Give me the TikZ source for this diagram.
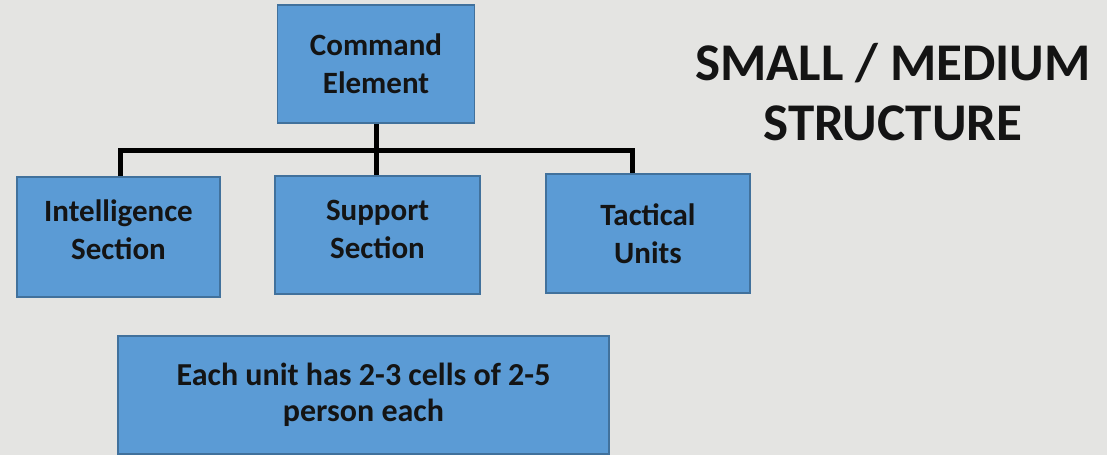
\documentclass[tikz,border=0pt]{standalone}
\usepackage{fontspec}
\setmainfont{Carlito}
\definecolor{bg}{HTML}{E4E4E2}
\definecolor{boxfill}{HTML}{5B9BD5}
\definecolor{boxline}{HTML}{41719C}
\definecolor{ink}{HTML}{141414}
\tikzset{
  orgbox/.style={draw=boxline, line width=1.5pt, fill=boxfill, align=center,
    font=\fontsize{31}{38}\selectfont\bfseries, text=ink, inner sep=0pt},
  link/.style={line width=5pt, black}
}
\begin{document}
\begin{tikzpicture}[x=1pt,y=-1pt]
\fill[bg] (0,0) rectangle (1107,455);
\useasboundingbox (0,0) rectangle (1107,455);
\node[orgbox, minimum width=197pt, minimum height=118pt] (cmd) at (376,64) {Command\\Element};
\node[orgbox, minimum width=203pt, minimum height=120pt, text depth=14pt] (int) at (118.5,237) {Intelligence\\Section};
\node[orgbox, minimum width=205pt, minimum height=118pt, text depth=12pt] (sup) at (377.5,235) {Support\\Section};
\node[orgbox, minimum width=204pt, minimum height=119pt] (tac) at (648,233.5) {Tactical\\Units};
\node[orgbox, minimum width=491pt, minimum height=118pt, font=\fontsize{32}{36}\selectfont\bfseries] (note) at (363.5,395) {Each unit has 2-3 cells of 2-5\\person each};
\node[font=\fontsize{53}{60}\selectfont\bfseries, text=ink, align=center] (title) at (893,92) {SMALL / MEDIUM\\STRUCTURE};
\coordinate (jl) at (120,150);
\coordinate (jr) at (632,150);
\draw[link] (cmd.south) -- (cmd.south |- sup.north);
\draw[link] (int.north -| jl) -- (jl) -- (jr) -- (jr |- tac.north);
\end{tikzpicture}
\end{document}
